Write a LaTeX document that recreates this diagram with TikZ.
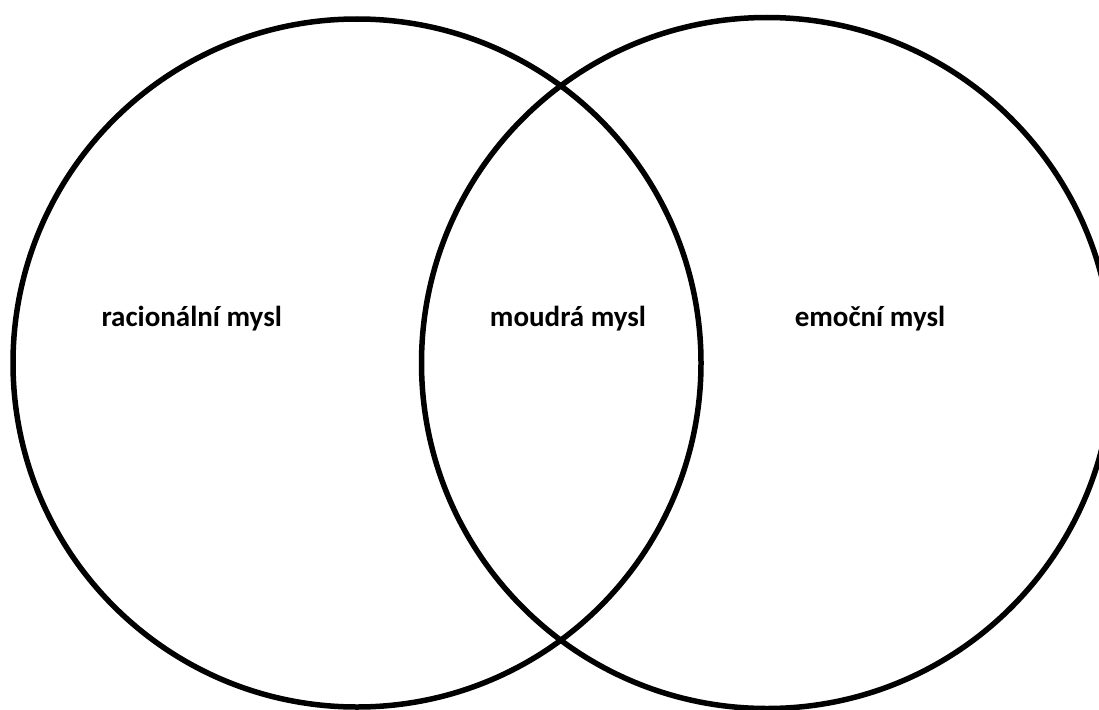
\documentclass[tikz,border=0pt]{standalone}
\usepackage{fontspec}
\setmainfont{Carlito}
\begin{document}
\begin{tikzpicture}[x=1pt,y=-1pt,
  ring/.style={draw=black,line width=5.5pt},
  label/.style={font=\fontsize{29}{32}\selectfont\bfseries,anchor=base,inner sep=0pt}]
  \useasboundingbox (0,0) rectangle (1099,709);
  \begin{scope}
    \clip (0,0) rectangle (1099,709);
    \draw[ring] (357,363) circle[radius=344];
    \draw[ring] (767,363) circle[radius=345.5];
  \end{scope}
  \node[label] (rational) at (191.7,326.7) {racionální mysl};
  \node[label] (wise) at (568,326.7) {moudrá mysl};
  \node[label] (emotion) at (870,326.7) {emoční mysl};
\end{tikzpicture}
\end{document}
